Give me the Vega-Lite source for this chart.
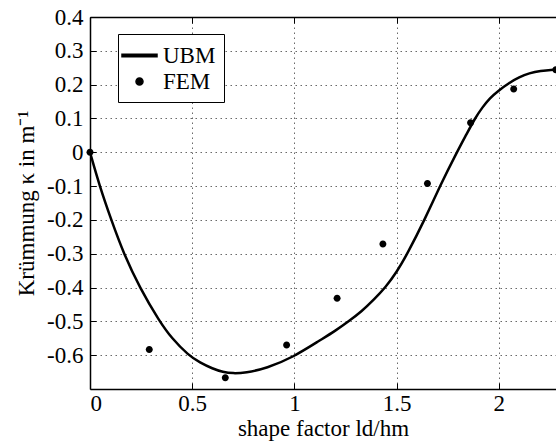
{
  "$schema": "https://vega.github.io/schema/vega-lite/v6.json",
  "width": 466,
  "height": 372,
  "autosize": {"type": "none"},
  "padding": {"left": 90, "top": 17, "right": 0, "bottom": 52},
  "config": {
    "font": "Liberation Serif",
    "view": {"stroke": null},
    "legend": {"symbolBaseStrokeColor": "black", "symbolBaseFillColor": "black"},
    "axis": {
      "labelFont": "Liberation Serif",
      "titleFont": "Liberation Serif",
      "labelFontSize": 23,
      "titleFontSize": 23,
      "titleFontWeight": "normal",
      "labelColor": "black",
      "titleColor": "black",
      "domainColor": "black",
      "domainWidth": 1.5,
      "tickColor": "black",
      "tickWidth": 1,
      "tickSize": -6,
      "gridColor": "#444444",
      "gridDash": [1.5, 3.5],
      "gridWidth": 1,
      "gridOpacity": 0.8
    }
  },
  "datasets": {
    "curve": [
      {"x": 0, "y": 0},
      {"x": 0.047, "y": -0.1},
      {"x": 0.104, "y": -0.2},
      {"x": 0.165, "y": -0.3},
      {"x": 0.243, "y": -0.4},
      {"x": 0.34, "y": -0.5},
      {"x": 0.4, "y": -0.55},
      {"x": 0.481, "y": -0.6},
      {"x": 0.538, "y": -0.622},
      {"x": 0.6, "y": -0.64},
      {"x": 0.65, "y": -0.65},
      {"x": 0.7, "y": -0.654},
      {"x": 0.76, "y": -0.652},
      {"x": 0.864, "y": -0.639},
      {"x": 0.994, "y": -0.606},
      {"x": 1.125, "y": -0.556},
      {"x": 1.2, "y": -0.528},
      {"x": 1.265, "y": -0.5},
      {"x": 1.33, "y": -0.47},
      {"x": 1.39, "y": -0.435},
      {"x": 1.445, "y": -0.4},
      {"x": 1.5, "y": -0.355},
      {"x": 1.553, "y": -0.3},
      {"x": 1.637, "y": -0.2},
      {"x": 1.712, "y": -0.1},
      {"x": 1.795, "y": 0},
      {"x": 1.842, "y": 0.053},
      {"x": 1.883, "y": 0.1},
      {"x": 1.92, "y": 0.133},
      {"x": 1.956, "y": 0.16},
      {"x": 2.0, "y": 0.183},
      {"x": 2.05, "y": 0.205},
      {"x": 2.1, "y": 0.222},
      {"x": 2.15, "y": 0.234},
      {"x": 2.2, "y": 0.241},
      {"x": 2.28, "y": 0.245}
    ],
    "fem": [
      {"x": 0, "y": 0, "series": "FEM"},
      {"x": 0.29, "y": -0.583, "series": "FEM"},
      {"x": 0.662, "y": -0.667, "series": "FEM"},
      {"x": 0.962, "y": -0.57, "series": "FEM"},
      {"x": 1.209, "y": -0.432, "series": "FEM"},
      {"x": 1.433, "y": -0.271, "series": "FEM"},
      {"x": 1.651, "y": -0.092, "series": "FEM"},
      {"x": 1.862, "y": 0.087, "series": "FEM"},
      {"x": 2.073, "y": 0.187, "series": "FEM"},
      {"x": 2.279, "y": 0.244, "series": "FEM"}
    ]
  },
  "resolve": {"axis": {"x": "independent"}},
  "layer": [
    {
      "mark": {"type": "rule", "color": "black", "strokeWidth": 4},
      "encoding": {
        "y": {"datum": 0, "type": "quantitative", "scale": {"domain": [-0.7, 0.4], "nice": false, "zero": false},
          "axis": {"title": "Krümmung κ in m⁻¹", "labelFont": "Liberation Serif", "titleFont": "Liberation Serif", "values": [-0.6, -0.5, -0.4, -0.3, -0.2, -0.1, 0, 0.1, 0.2, 0.3, 0.4], "format": ".1~f", "labelExpr": "replace(datum.label, '−', '-')", "labelPadding": 13, "titlePadding": 8, "grid": true}}
      }
    },
    {
      "data": {"name": "curve"},
      "mark": {"type": "line", "color": "black", "strokeWidth": 2.5, "interpolate": "basis", "clip": true},
      "encoding": {
        "x": {"field": "x", "type": "quantitative", "scale": {"domain": [0, 2.28], "nice": false, "zero": false},
          "axis": {"orient": "bottom", "title": "shape factor ld/hm", "labelFont": "Liberation Serif", "titleFont": "Liberation Serif", "values": [0, 0.5, 1, 1.5, 2], "format": "~g", "labelPadding": 9, "titlePadding": 2, "grid": true}},
        "y": {"field": "y", "type": "quantitative",
          "axis": {"title": "Krümmung κ in m⁻¹", "labelFont": "Liberation Serif", "titleFont": "Liberation Serif", "values": [-0.6, -0.5, -0.4, -0.3, -0.2, -0.1, 0, 0.1, 0.2, 0.3, 0.4], "format": ".1~f", "labelExpr": "replace(datum.label, '−', '-')", "labelPadding": 13, "titlePadding": 8, "grid": true}}
      }
    },
    {
      "data": {"name": "fem"},
      "mark": {"type": "point", "filled": true, "fill": "black", "stroke": "black", "strokeWidth": 0, "opacity": 1, "size": 625},
      "encoding": {
        "x": {"field": "x", "type": "quantitative",
          "axis": {"orient": "top", "labels": false, "title": null, "grid": false, "values": [0, 0.5, 1, 1.5, 2]}},
        "y": {"field": "y", "type": "quantitative",
          "axis": {"title": "Krümmung κ in m⁻¹", "labelFont": "Liberation Serif", "titleFont": "Liberation Serif", "values": [-0.6, -0.5, -0.4, -0.3, -0.2, -0.1, 0, 0.1, 0.2, 0.3, 0.4], "format": ".1~f", "labelExpr": "replace(datum.label, '−', '-')", "labelPadding": 13, "titlePadding": 8, "grid": true}},
        "shape": {"field": "series", "type": "nominal",
          "scale": {"domain": ["UBM", "FEM"], "range": ["M-1.4,-0.1L1.4,-0.1L1.4,0.1L-1.4,0.1Z", "M0.28,0A0.28,0.28,0,1,1,-0.28,0A0.28,0.28,0,1,1,0.28,0Z"]},
          "legend": {"title": null, "orient": "none", "legendX": 28, "legendY": 17, "strokeColor": "black", "fillColor": "white", "padding": 8, "rowPadding": 0, "labelOffset": 10, "labelFont": "Liberation Serif", "labelFontSize": 23, "labelColor": "black", "symbolOpacity": 1, "symbolSize": 625, "symbolFillColor": "black"}}
      }
    }
  ]
}
